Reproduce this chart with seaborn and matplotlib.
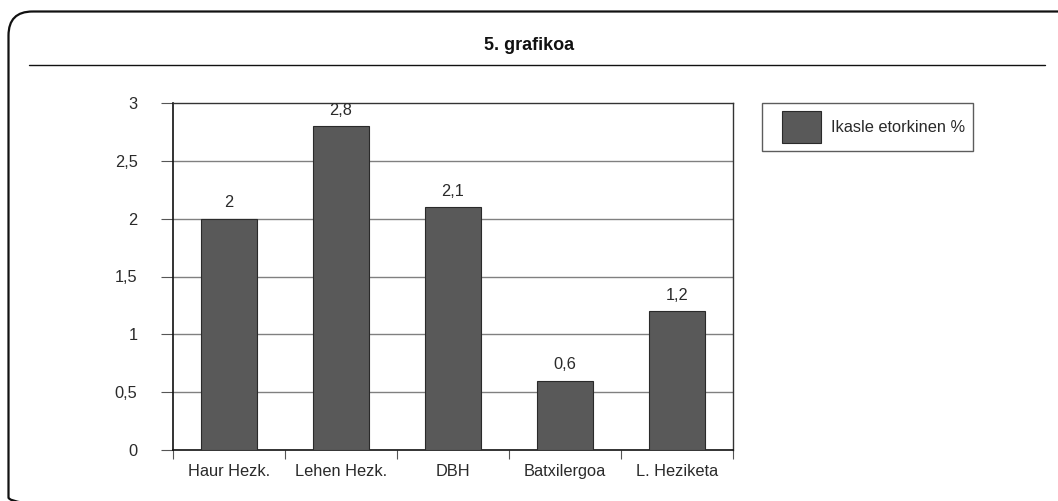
import matplotlib
matplotlib.use("Agg")
import matplotlib.pyplot as plt
import seaborn as sns
import pandas as pd
from matplotlib.patches import FancyBboxPatch, Rectangle
from matplotlib.legend_handler import HandlerPatch
from matplotlib.ticker import FixedLocator

categories = ["Haur Hezk.", "Lehen Hezk.", "DBH", "Batxilergoa", "L. Heziketa"]
values = [2.0, 2.8, 2.1, 0.6, 1.2]
series_name = "Ikasle etorkinen %"
title = "5. grafikoa"
y_ticks = [0, 0.5, 1, 1.5, 2, 2.5, 3]

sns.set_theme(style="white")
plt.rcParams["font.family"] = ["Liberation Sans", "DejaVu Sans"]

FS = 11.8
TXT = "#2a2a2a"

W, H = 1058, 501
fig = plt.figure(figsize=(W / 100, H / 100), dpi=100)

# background frame in pixel coordinates
bg = fig.add_axes([0, 0, 1, 1], zorder=-10)
bg.set_xlim(0, W)
bg.set_ylim(H, 0)
bg.axis("off")
bg.add_patch(FancyBboxPatch((8.5, 11.5), 1080, 510,
                            boxstyle="round,pad=0,rounding_size=24",
                            fill=False, edgecolor="#111111", linewidth=1.6))
bg.plot([29, 1045], [65, 65], color="#111111", linewidth=1.0)
bg.text(529, 45, title, ha="center", va="center", fontsize=13,
        fontweight="bold", color="#111111")

df = pd.DataFrame({"kategoria": categories, "balioa": values})

ax = fig.add_axes([173 / W, 1 - 450 / H, (733 - 173) / W, (450 - 103) / H])
sns.barplot(data=df, x="kategoria", y="balioa", color="#595959", width=0.5,
            saturation=1, edgecolor="#2a2a2a", linewidth=0.8, ax=ax,
            label=series_name, zorder=3)

ax.set_xlim(-0.5, len(categories) - 0.5)
ax.set_ylim(0, 3)
ax.set_xlabel("")
ax.set_ylabel("")
ax.set_facecolor("white")

ax.yaxis.set_major_locator(FixedLocator(y_ticks))
ax.set_yticklabels([f"{t:g}".replace(".", ",") for t in y_ticks])
for t in y_ticks[1:-1]:
    ax.axhline(t, color="#808080", linewidth=1.0, zorder=1)

ax.tick_params(axis="y", which="major", length=8.5, width=0.8, color="#555555",
               pad=17, labelsize=FS, labelcolor=TXT, left=True)
ax.tick_params(axis="x", which="major", length=0, pad=18.5, labelsize=FS,
               labelcolor=TXT)
for lbl in ax.get_xticklabels():
    lbl.set_verticalalignment("baseline")
ax.xaxis.set_minor_locator(FixedLocator([i - 0.5 for i in range(len(categories) + 1)]))
ax.tick_params(axis="x", which="minor", length=6.5, width=0.8, color="#555555",
               bottom=True)

for side in ["left", "bottom"]:
    ax.spines[side].set_color("#111111")
    ax.spines[side].set_linewidth(1.2)
for side in ["top", "right"]:
    ax.spines[side].set_color("#333333")
    ax.spines[side].set_linewidth(1.0)
ax.spines["top"].set_visible(True)
ax.spines["right"].set_visible(True)

for container in ax.containers:
    ax.bar_label(container, labels=[f"{v:g}".replace(".", ",") for v in values],
                 padding=6, fontsize=FS, color=TXT)


class OffsetSquare(HandlerPatch):
    def create_artists(self, legend, orig_handle, xdescent, ydescent,
                       width, height, fontsize, trans):
        r = Rectangle((-xdescent + 8.4, -ydescent), 28, height,
                      facecolor="#595959", edgecolor="#2a2a2a", linewidth=0.8,
                      transform=trans)
        return [r]


handles, labels = ax.get_legend_handles_labels()
leg = ax.legend(handles[:1], [series_name], loc="upper left",
                bbox_to_anchor=(762 / W, 1 - 103 / H), bbox_transform=fig.transFigure,
                borderaxespad=0, borderpad=0.5, fontsize=FS, frameon=True,
                fancybox=False, handlelength=3.05, handleheight=2.6,
                handletextpad=0.66, handler_map={handles[0]: OffsetSquare()})
leg.get_frame().set_edgecolor("#333333")
leg.get_frame().set_linewidth(1.0)
for txt in leg.get_texts():
    txt.set_color(TXT)

fig.savefig("out.png", dpi=100)
